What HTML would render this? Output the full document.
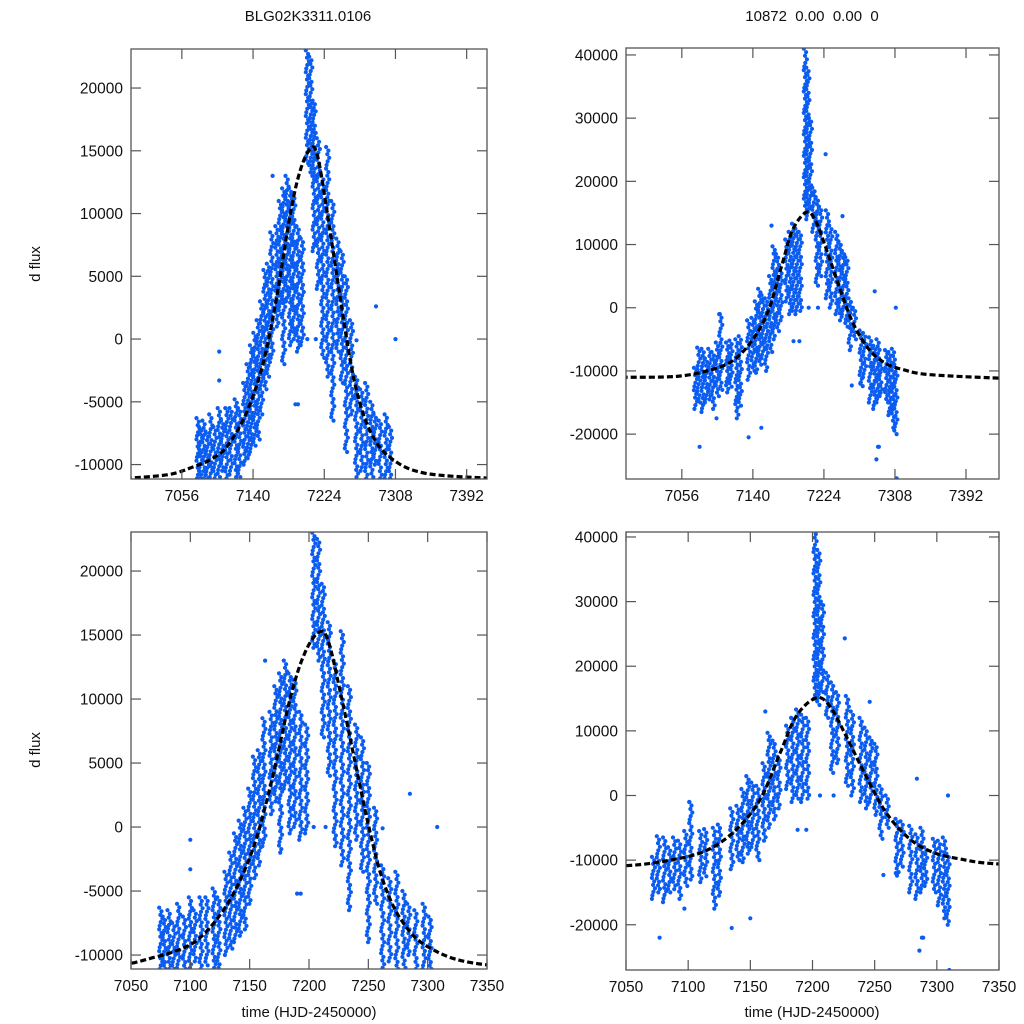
<!DOCTYPE html>
<html><head><meta charset="utf-8">
<style>
html,body{margin:0;padding:0;background:#fff;}
svg{display:block;font-family:"Liberation Sans",sans-serif;}
</style></head>
<body>
<svg id="chart" width="1024" height="1024" viewBox="0 0 1024 1024" xmlns="http://www.w3.org/2000/svg">
<rect width="1024" height="1024" fill="#fff"/>
<text x="308" y="21" font-size="15" text-anchor="middle" fill="#111">BLG02K3311.0106</text>
<text x="812" y="21" font-size="15" text-anchor="middle" fill="#111" xml:space="preserve">10872  0.00  0.00  0</text>
<text transform="translate(40,264) rotate(-90)" font-size="15" text-anchor="middle" fill="#111">d flux</text>
<text transform="translate(40,750) rotate(-90)" font-size="15" text-anchor="middle" fill="#111">d flux</text>
<text x="309" y="1017" font-size="15" text-anchor="middle" fill="#111">time (HJD-2450000)</text>
<text x="812" y="1017" font-size="15" text-anchor="middle" fill="#111">time (HJD-2450000)</text>
<g id="plots"></g>
</svg>
<script>
// Dataset A (left panels): nightly time, low flux, high flux
const tA  = [7075,7078,7082,7086,7090,7095,7100,7104,7109,7114,7120,7124,7130,7134,7138,7142,7146,7150,7154,7158,7162,7168,7172,7176,7180,7184,7188,7193,7198,7204,7208,7212,7217,7222,7228,7234,7240,7245,7250,7256,7262,7268,7274,7280,7284,7290,7297,7302];
const loA = [-11100,-11100,-11100,-11100,-11000,-11100,-11000,-10500,-11100,-10800,-11000,-11000,-10000,-9500,-9000,-8500,-8000,-6000,-4000,-3000,-1500,1000,2000,-2000,3000,-500,0,-1000,-500,14000,13000,7000,4000,-1500,-3000,-6500,-1000,-3500,-9000,-6000,-11000,-10500,-11100,-11000,-10000,-11100,-11100,-11100];
const hiA = [-6300,-7000,-6500,-7500,-6000,-7000,-5500,-6500,-5500,-5500,-4800,-5500,-3500,-2000,-500,500,1500,3000,5500,6000,8500,9000,11000,12000,13000,12000,11500,9000,8000,23000,22500,19000,16000,13000,15300,11000,8000,7000,5000,1500,-3000,-4000,-3500,-5000,-6000,-6500,-6000,-7000];
const outTA = [7100,7100,7163,7190,7193,7204,7214,7285,7308,7262];
const outFA = [-1000,-3300,13000,-5200,-5200,0,0,2600,0,-100];
// Dataset B (right panels)
const tB  = [7072,7076,7081,7085,7089,7093,7098,7102,7110,7114,7121,7125,7135,7140,7144,7148,7152,7156,7161,7165,7169,7173,7180,7184,7188,7192,7196,7202,7205,7208,7212,7216,7220,7228,7232,7239,7243,7247,7251,7255,7260,7268,7272,7279,7284,7288,7291,7298,7302,7306,7309];
const loB = [-16000,-15000,-16500,-15000,-14500,-16000,-14000,-13000,-13400,-12500,-17500,-15500,-11400,-10000,-10300,-9000,-8000,-10000,-7000,-5000,-3700,-2000,1000,-1000,-500,-1000,-500,15000,14000,16000,12000,3500,5000,1500,0,-1000,-2000,-1000,-3000,-6700,-5000,-12400,-11000,-15000,-16000,-15000,-14000,-15000,-17000,-19000,-20000];
const hiB = [-9500,-6300,-6500,-8000,-6500,-7000,-5500,-1000,-5500,-5200,-5000,-4500,-2000,-1600,1000,3000,2000,1500,5000,9700,8500,6000,10800,12000,13300,12500,12000,41000,38000,30000,19000,17500,16000,15400,13000,12000,10500,9000,8000,1500,0,-3600,-4000,-4700,-6000,-5000,-8000,-6700,-7000,-6500,-9000];
const outTB = [7077,7097,7101,7135,7150,7162,7188,7195,7206,7217,7226,7246,7257,7284,7286,7288,7310,7309,7267,7289];
const outFB = [-22000,-17500,-1000,-20500,-19000,13000,-5300,-5300,0,0,24300,14500,-12300,2600,-24000,-22000,-27000,0,-12000,-22000];
// Fitted model curves
const fitTA = [6990,7040,7070,7090,7109,7132,7152,7168,7184,7196,7208,7216,7227,7239,7250,7262,7278,7301,7344,7440];
const fitFA = [-11100,-10800,-10170,-9600,-8580,-5900,-1900,3400,10000,13500,15200,14600,10300,5000,200,-4100,-7300,-9400,-10700,-11150];
const fitTB = [6985,7050,7091,7117,7139,7158,7174,7187,7203,7214,7227,7243,7259,7278,7297,7318,7350,7440];
const fitFB = [-11000,-10860,-9800,-8300,-5200,-570,6600,12300,15100,13800,9200,3000,-2600,-6700,-8800,-9800,-10600,-11200];
// Ticks
const yTicksSmall = [-10000,-5000,0,5000,10000,15000,20000];
const yTicksLarge = [-20000,-10000,0,10000,20000,30000,40000];
const xTicksTop = [7056,7140,7224,7308,7392];
const xTicksBottom = [7050,7100,7150,7200,7250,7300,7350];

const NS='http://www.w3.org/2000/svg';
const root=document.getElementById('plots');
function mk(tag,attrs,parent){const e=document.createElementNS(NS,tag);for(const k in attrs)e.setAttribute(k,attrs[k]);(parent||root).appendChild(e);return e;}

const panels=[
 {id:'top-left',L:131,R:487,T:49,B:479,x0:6996,x1:7416,y0:-11150,y1:23110,yt:yTicksSmall,xt:xTicksTop,ds:'A'},
 {id:'top-right',L:626,R:999,T:48,B:479,x0:6990,x1:7431,y0:-27100,y1:41100,yt:yTicksLarge,xt:xTicksTop,ds:'B'},
 {id:'bottom-left',L:131,R:487,T:532,B:969,x0:7050,x1:7350,y0:-11090,y1:23050,yt:yTicksSmall,xt:xTicksBottom,ds:'A'},
 {id:'bottom-right',L:626,R:999,T:532,B:970,x0:7050,x1:7350,y0:-27000,y1:40770,yt:yTicksLarge,xt:xTicksBottom,ds:'B'}
];

panels.forEach((p,pi)=>{
  const xs=t=>p.L+(t-p.x0)/(p.x1-p.x0)*(p.R-p.L);
  const ys=v=>p.B-(v-p.y0)/(p.y1-p.y0)*(p.B-p.T);
  const g=mk('g',{});
  
  
  const cp=mk('clipPath',{id:'clip'+pi},g);
  mk('rect',{x:p.L,y:p.T,width:p.R-p.L,height:p.B-p.T},cp);
  const pts=mk('g',{'clip-path':'url(#clip'+pi+')',fill:'#0b5cf0'},g);
  
  
  const T=p.ds==='A'?tA:tB, LO=p.ds==='A'?loA:loB, HI=p.ds==='A'?hiA:hiB;
  const OT=p.ds==='A'?outTA:outTB, OF=p.ds==='A'?outFA:outFB;
  T.forEach((t,i)=>{
    const x=xs(t), ya=ys(HI[i]), yb=ys(LO[i]);
    const n=Math.max(1,Math.round((yb-ya)/3.6));
    for(let k=0;k<=n;k++){
      const off=[-1.5,0.8,-0.3,1.6,0,-1][k%6];
      const c=mk('circle',{cx:(x+off).toFixed(1),cy:(ya+(yb-ya)*k/n).toFixed(1),r:2.1},pts);
      
      
    }
  });
  OT.forEach((t,i)=>{
    const c=mk('circle',{cx:xs(t).toFixed(1),cy:ys(OF[i]).toFixed(1),r:2.1},pts);
    
    
  });
  const FT=p.ds==='A'?fitTA:fitTB, FF=p.ds==='A'?fitFA:fitFB;
  const P=FT.map((t,i)=>[xs(t),ys(FF[i])]);
  let d='M'+P[0][0].toFixed(1)+','+P[0][1].toFixed(1);
  for(let i=0;i<P.length-1;i++){
    const p0=P[Math.max(0,i-1)],p1=P[i],p2=P[i+1],p3=P[Math.min(P.length-1,i+2)];
    const c1=[p1[0]+(p2[0]-p0[0])/6,p1[1]+(p2[1]-p0[1])/6];
    const c2=[p2[0]-(p3[0]-p1[0])/6,p2[1]-(p3[1]-p1[1])/6];
    d+=' C'+c1[0].toFixed(1)+','+c1[1].toFixed(1)+' '+c2[0].toFixed(1)+','+c2[1].toFixed(1)+' '+p2[0].toFixed(1)+','+p2[1].toFixed(1);
  }
  const fit=mk('path',{d:d,fill:'none',stroke:'#000','stroke-width':3.2,'stroke-dasharray':'6,3','clip-path':'url(#clip'+pi+')'},g);
  
  
  const fr=mk('rect',{x:p.L,y:p.T,width:p.R-p.L,height:p.B-p.T,fill:'none',stroke:'#555','stroke-width':1.3},g);
  
  
  p.yt.forEach(v=>{
    const y=ys(v); if(y<p.T-1||y>p.B+1) return;
    mk('line',{x1:p.L,x2:p.L+10,y1:y,y2:y,stroke:'#555','stroke-width':1.2},g);
    mk('line',{x1:p.R-10,x2:p.R,y1:y,y2:y,stroke:'#555','stroke-width':1.2},g);
    const tx=mk('text',{x:p.L-8,y:y+5.5,'font-size':15.5,'text-anchor':'end',fill:'#111'},g);
    tx.textContent=v;
    
    
  });
  p.xt.forEach(v=>{
    const x=xs(v);
    mk('line',{x1:x,x2:x,y1:p.B,y2:p.B-10,stroke:'#555','stroke-width':1.2},g);
    mk('line',{x1:x,x2:x,y1:p.T,y2:p.T+10,stroke:'#555','stroke-width':1.2},g);
    const tx=mk('text',{x:x,y:p.B+22,'font-size':15.5,'text-anchor':'middle',fill:'#111'},g);
    tx.textContent=v;
    
    
  });
});
</script>
</body></html>
